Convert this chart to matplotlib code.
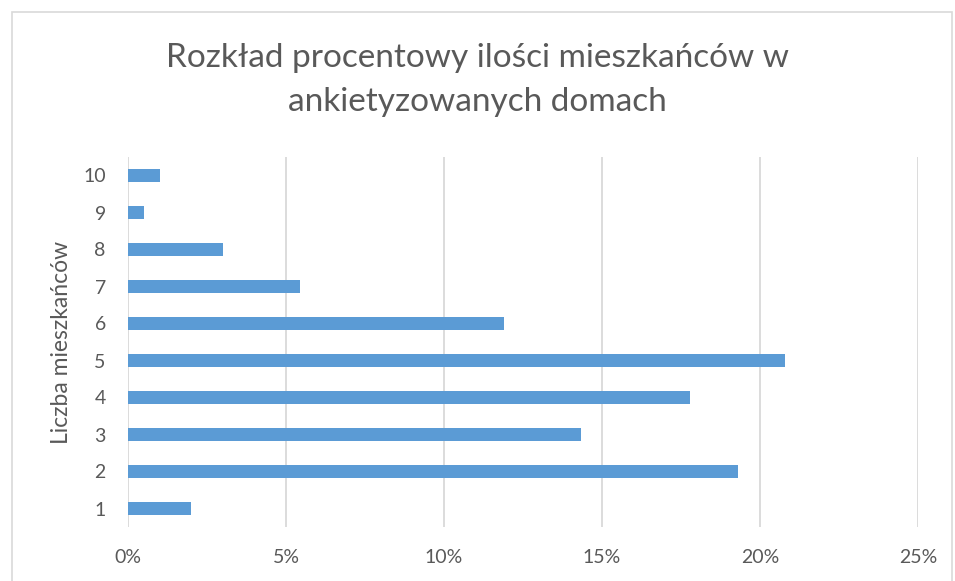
import matplotlib.pyplot as plt
from matplotlib.patches import Rectangle
from matplotlib.ticker import FuncFormatter

plt.rcParams['font.family'] = ['Lato', 'DejaVu Sans']

residents = ['1', '2', '3', '4', '5', '6', '7', '8', '9', '10']
share_pct = [2.0, 19.3, 14.35, 17.8, 20.8, 11.9, 5.45, 3.0, 0.5, 1.0]
x_ticks = [0, 5, 10, 15, 20, 25]

title = 'Rozkład procentowy ilości mieszkańców w\nankietyzowanych domach'
ylabel = 'Liczba mieszkańców'

text_col = '#595959'
bar_col = '#5B9BD5'
grid_col = '#D9D9D9'

fig = plt.figure(figsize=(9.55, 5.81), dpi=100)
ax = fig.add_axes([128/955, 1 - 527/581, (918 - 128)/955, (527 - 157)/581])

pos = list(range(len(residents)))
ax.barh(pos, share_pct, height=0.36, color=bar_col, zorder=3)
ax.set_ylim(-0.5, len(residents) - 0.5)
ax.set_yticks(pos)
ax.set_yticklabels(residents)
ax.set_xlim(0, 25)
ax.set_xticks(x_ticks)
ax.xaxis.set_major_formatter(FuncFormatter(lambda v, _: f'{v:.0f}%'))

ax.grid(axis='x', color=grid_col, linewidth=1.3, zorder=0)
for s in ax.spines.values():
    s.set_visible(False)
ax.tick_params(length=0, labelsize=14, labelcolor=text_col)
ax.tick_params(axis='x', pad=16)
ax.tick_params(axis='y', pad=16)

ax.set_ylabel(ylabel, fontsize=16.5, color=text_col, labelpad=8)

fig.text(0.5, 1 - 80/581, title, ha='center', va='center', fontsize=24,
         color=text_col, fontweight='normal', linespacing=1.6)

# outer chart frame
fig.patches.append(Rectangle((12/955, -0.05), (952 - 12)/955, 1.05 - 12/581,
                             transform=fig.transFigure, fill=False,
                             edgecolor=grid_col, linewidth=1.2))

plt.savefig('out.png', dpi=100)
